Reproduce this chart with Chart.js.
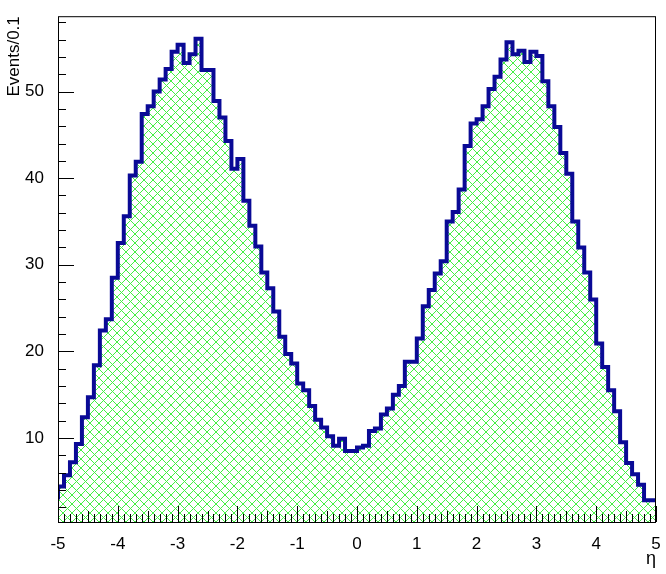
<!DOCTYPE html>
<html>
<head>
<meta charset="utf-8">
<script src="https://cdn.jsdelivr.net/npm/chart.js@4/dist/chart.umd.min.js"></script>
<style>
  html, body { margin: 0; padding: 0; background: #fff; }
</style>
</head>
<body>
<canvas id="c" width="666" height="574"></canvas>
<script>
// 100 bins of 0.1 from -5 to 5.
const binLow = -5;
const binWidth = 0.1;
const counts = [
  2.9, 4.4, 5.7, 7.2, 9.3, 12.4, 14.7, 18.4, 22.4, 23.7,
  28.5, 32.5, 35.6, 40.3, 41.9, 47.4, 48.3, 50.0, 51.4, 52.6,
  54.6, 55.4, 53.3, 54.3, 56.1, 52.5, 52.5, 48.9, 47.0, 44.3,
  41.1, 42.2, 37.4, 34.5, 32.1, 29.1, 27.3, 24.6, 21.7, 19.7,
  18.6, 16.3, 15.5, 13.7, 12.1, 11.2, 10.2, 9.1, 9.9, 8.5,
  8.5, 8.9, 9.1, 10.8, 11.1, 12.7, 13.4, 15.0, 16.0, 18.8,
  18.8, 21.5, 25.2, 27.1, 29.0, 30.4, 35.0, 36.1, 38.7, 43.7,
  46.3, 46.8, 48.3, 50.3, 51.7, 53.7, 55.7, 54.3, 54.7, 53.4,
  54.6, 54.1, 51.2, 48.3, 45.9, 42.9, 40.5, 35.0, 32.0, 29.1,
  26.0, 20.9, 18.2, 15.5, 13.1, 9.5, 7.1, 5.8, 4.6, 2.8,
];
const xTicks = [-5, -4, -3, -2, -1, 0, 1, 2, 3, 4, 5];
const yTicks = [10, 20, 30, 40, 50];

// Bin edges as points; the final edge repeats the last bin so the step closes.
const points = counts.map((v, i) => ({ x: binLow + i * binWidth, y: v }));
points.push({ x: binLow + counts.length * binWidth, y: counts[counts.length - 1] });

// ROOT-style 45 degree cross hatch.
function hatch() {
  const s = 9;
  const p = document.createElement("canvas");
  p.width = s; p.height = s;
  const g = p.getContext("2d");
  g.strokeStyle = "#44ee44";
  g.lineWidth = 1;
  g.beginPath();
  g.moveTo(-1, -1); g.lineTo(s + 1, s + 1);
  g.moveTo(s + 1, -1); g.lineTo(-1, s + 1);
  g.stroke();
  return g.createPattern(p, "repeat");
}

// Frame plus inward ticks, as ROOT draws them.
const frame = {
  id: "frame",
  afterDatasetsDraw(chart) {
    const { ctx, chartArea: a, scales } = chart;
    ctx.save();
    ctx.strokeStyle = "#000";
    ctx.lineWidth = 1;
    ctx.beginPath();
    for (let i = 0; i <= 100; i++) {
      const v = -5 + i * 0.1;
      const px = Math.round(scales.x.getPixelForValue(v)) + 0.5;
      const len = i % 10 === 0 ? 16 : (i % 5 === 0 ? 11 : 8);
      ctx.moveTo(px, a.bottom); ctx.lineTo(px, a.bottom - len);
    }
    for (let v = 2; v <= 58; v += 2) {
      const py = Math.round(scales.y.getPixelForValue(v)) + 0.5;
      const len = v % 10 === 0 ? 16 : 8;
      ctx.moveTo(a.left, py); ctx.lineTo(a.left + len, py);
    }
    ctx.stroke();
    ctx.strokeRect(a.left + 0.5, a.top + 0.5, a.right - a.left - 1, a.bottom - a.top);
    ctx.restore();
  },
};

const font = { family: "'Liberation Sans', Arial, sans-serif", size: 17 };

new Chart(document.getElementById("c"), {
  type: "line",
  data: {
    datasets: [{
      data: points,
      stepped: "after",
      borderColor: "#0a0a96",
      borderWidth: 4,
      backgroundColor: hatch(),
      fill: "origin",
      pointRadius: 0,
    }],
  },
  options: {
    responsive: false,
    animation: false,
    devicePixelRatio: 1,
    layout: { padding: { top: -6, right: 10, left: 0, bottom: 0 } },
    plugins: { legend: { display: false }, tooltip: { enabled: false } },
    scales: {
      x: {
        type: "linear", min: -5, max: 5,
        afterBuildTicks: (s) => { s.ticks = xTicks.map((v) => ({ value: v })); },
        afterFit: (s) => { s.height = 52; },
        grid: { display: false },
        border: { display: false },
        ticks: { color: "#000", font, padding: 4, maxRotation: 0 },
        title: { display: true, text: "η", align: "end", color: "#000", font: { ...font, size: 18 }, padding: { top: -4 } },
      },
      y: {
        type: "linear", min: 0.3, max: 58.7,
        afterBuildTicks: (s) => { s.ticks = yTicks.map((v) => ({ value: v })); },
        afterFit: (s) => { s.width = 58; },
        grid: { display: false },
        border: { display: false },
        ticks: { color: "#000", font, padding: 6 },
        title: { display: true, text: "Events/0.1", align: "end", color: "#000", font, padding: { bottom: 0 } },
      },
    },
  },
  plugins: [frame],
});
</script>
</body>
</html>
